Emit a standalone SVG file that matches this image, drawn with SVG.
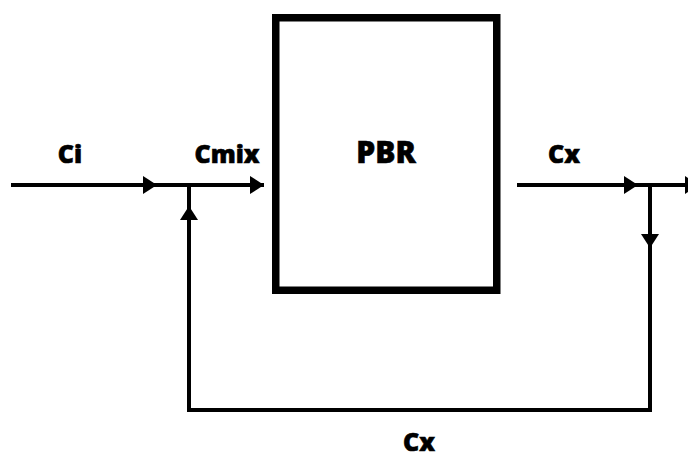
<svg xmlns="http://www.w3.org/2000/svg" width="688" height="457" viewBox="0 0 688 457">
<style>
.ln{fill:none;stroke:#000;stroke-width:4;marker-end:url(#ah)}
.pl{fill:none;stroke:#000;stroke-width:4}
.lb{font-family:"Open Sans","Liberation Sans",sans-serif;font-weight:800;fill:#000;stroke:#000;stroke-width:0.6;text-anchor:middle}
</style>
<defs>
<marker id="ah" markerUnits="userSpaceOnUse" viewBox="0 0 14 18" refX="14" refY="9" markerWidth="14" markerHeight="18" orient="auto">
<path d="M0,0 L14,9 L0,18 z" fill="#000"/>
</marker>
</defs>
<rect width="688" height="457" fill="#fff"/>
<g id="pbr">
<rect x="275.75" y="17.75" width="221" height="272.5" fill="none" stroke="#000" stroke-width="7.5"/>
<text class="lb" x="386" y="163" font-size="30">PBR</text>
</g>
<g id="labels">
<text class="lb" x="70" y="163" font-size="25">Ci</text>
<text class="lb" x="227" y="163" font-size="25">Cmix</text>
<text class="lb" x="564" y="163" font-size="25">Cx</text>
<text class="lb" x="419" y="451" font-size="25">Cx</text>
</g>
<g id="connectors">
<path class="ln" d="M11,185 H157"/>
<path class="ln" d="M157,185 H264"/>
<path class="ln" d="M517,185 H638"/>
<path class="ln" d="M638,185 H699"/>
<path class="ln" d="M650,185 V248"/>
<path class="ln" d="M650,248 V410 H189 V206"/>
<path class="pl" d="M189,206 V185"/>
</g>
</svg>
